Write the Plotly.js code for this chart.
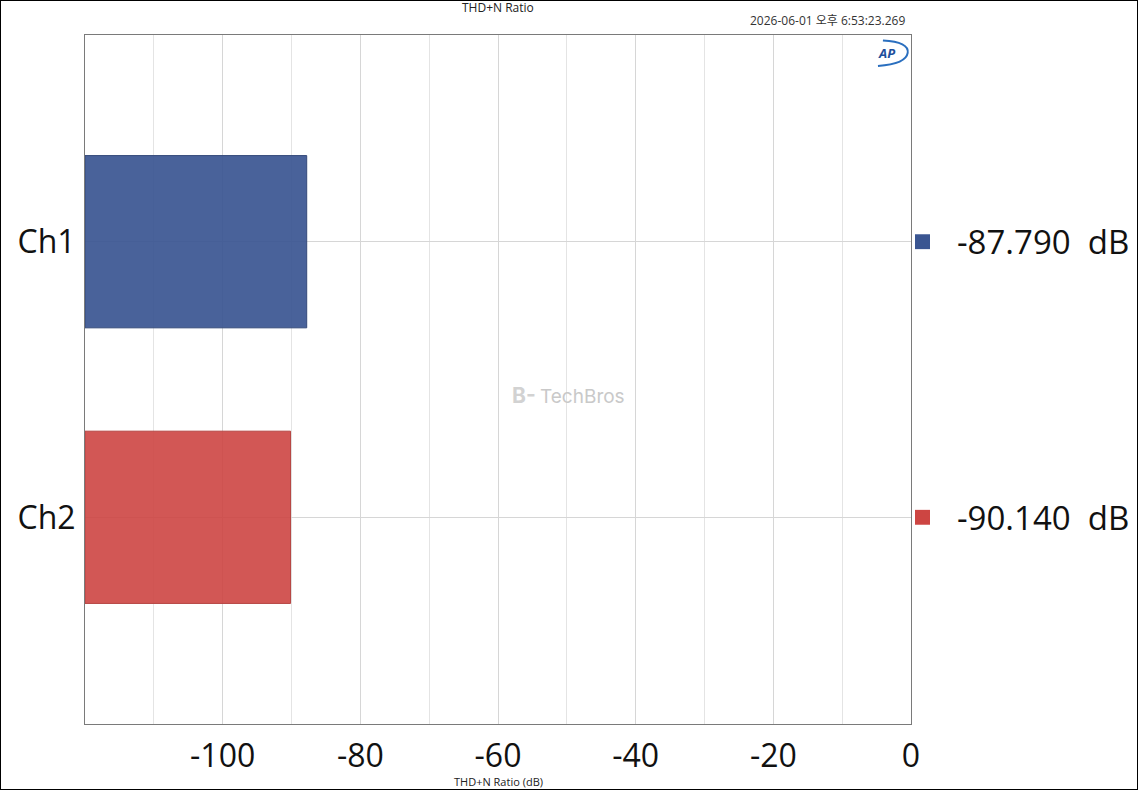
<!DOCTYPE html>
<html><head><meta charset="utf-8">
<script src="https://cdn.plot.ly/plotly-3.0.1.min.js"></script>
<style>html,body{margin:0;padding:0;background:#fff;}#wrap{position:relative;width:1138px;height:790px;}#frame{position:absolute;left:0;top:0;width:1136px;height:788px;border:1px solid #000;pointer-events:none;}</style>
</head><body><div id="wrap"><div id="chart" style="width:1138px;height:790px;"></div><div id="frame"></div></div>
<script>
const channels = ['Ch1', 'Ch2'];
const thdn = [-87.790, -90.140];
const barColors = ['rgba(58,85,145,0.92)', 'rgba(205,69,66,0.9)'];
const edgeColors = ['#34497a', '#b54542'];
const xTicks = [-100, -80, -60, -40, -20, 0];
const XMIN = -120, XMAX = 0;

const FONT = '"Segoe UI", "Open Sans", "Noto Sans", sans-serif';

const traces = channels.map((c, i) => ({
  type: 'bar', orientation: 'h',
  y: [c], x: [thdn[i] - XMIN], base: [XMIN],
  width: 0.625,
  marker: {color: barColors[i], line: {color: edgeColors[i], width: 1}},
  hoverinfo: 'skip', showlegend: false
}));

const annotations = [
  {xref:'paper', yref:'paper', x:0.5, y:1, yshift:28, text:'THD+N Ratio', showarrow:false, xanchor:'center', yanchor:'middle', font:{family:FONT, size:12, color:'#222'}},
  {xref:'paper', yref:'paper', x:0.995, y:1, yshift:4, text:'2026-06-01 오후 6:53:23.269', showarrow:false, xanchor:'right', yanchor:'bottom', font:{family:FONT+', "Noto Sans CJK KR"', size:12, color:'#333'}},
  {xref:'paper', yref:'paper', x:0.5, y:0, yshift:-57, text:'THD+N Ratio (dB)', showarrow:false, xanchor:'center', yanchor:'middle', font:{family:FONT, size:11, color:'#222'}},
  {xref:'paper', yref:'paper', x:0.602, y:0.476, text:'TechBros', showarrow:false, xanchor:'center', yanchor:'middle', font:{family:'Inter, "Open Sans", sans-serif', size:19, color:'#c9c9c9'}},
  {xref:'paper', yref:'paper', x:0.532, y:0.477, text:'<b>B-</b>', showarrow:false, xanchor:'center', yanchor:'middle', font:{family:'Inter, "Open Sans", sans-serif', size:21, color:'#d2d2d2'}},
  {xref:'paper', yref:'paper', x:0.970, y:0.974, text:'<b><i>AP</i></b>', showarrow:false, xanchor:'center', yanchor:'middle', font:{family:'"Open Sans", sans-serif', size:13, color:'#1d4f9c'}}
];
channels.forEach((c, i) => {
  annotations.push({xref:'paper', yref:'y', x:1, xshift:44, y:c, text:thdn[i].toFixed(3) + '\u00a0\u00a0dB', showarrow:false, xanchor:'left', yanchor:'middle', font:{family:FONT, size:33, color:'#111'}});
});

const shapes = channels.map((c, i) => ({
  type:'rect', xref:'paper', yref:'y', x0:(915-85)/826, x1:(930-85)/826, y0:i-0.027, y1:i+0.027,
  fillcolor: barColors[i].replace(/0\.9\d?\)/, '1)'), line:{width:0}
}));
shapes.push({type:'path', xref:'paper', yref:'paper',
  path:'M 0.966 0.992 Q 0.998 0.99 0.996 0.974 Q 0.994 0.958 0.960 0.955', line:{color:'#2a6fbf', width:2}});

const layout = {
  width:1138, height:790,
  margin:{l:85, r:227, t:35, b:66},
  paper_bgcolor:'#fff', plot_bgcolor:'#fff',
  showlegend:false,
  xaxis:{range:[XMIN, XMAX], tickvals:xTicks, ticktext:xTicks.map(String),
    showgrid:true, gridcolor:'#d6d6d6', gridwidth:1,
    minor:{dtick:10, tick0:0, showgrid:true, gridcolor:'#e4e4e4', gridwidth:1, ticks:''},
    showline:true, mirror:true, linecolor:'#7a7a7a', linewidth:1,
    zeroline:false, ticks:'', ticklabelstandoff:4,
    tickfont:{family:FONT, size:32, color:'#111'}},
  yaxis:{type:'category', categoryorder:'array', categoryarray:channels,
    range:[1.75, -0.75], showgrid:true, gridcolor:'#d6d6d6',
    showline:true, mirror:true, linecolor:'#7a7a7a', linewidth:1,
    zeroline:false, ticks:'', ticklabelstandoff:2,
    tickfont:{family:FONT, size:32, color:'#111'}},
  annotations: annotations,
  shapes: shapes,
  bargap:0
};
Plotly.newPlot('chart', traces, layout, {displayModeBar:false, staticPlot:true});
</script></body></html>
